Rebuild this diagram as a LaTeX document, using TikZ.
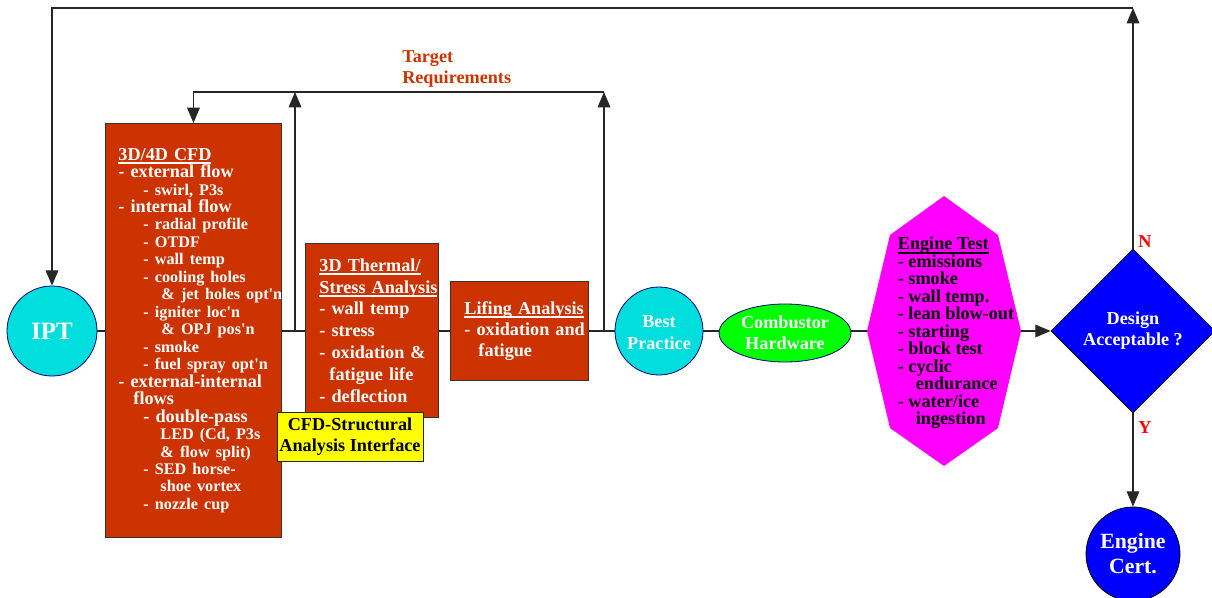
\documentclass[tikz,border=0pt]{standalone}
\usepackage{fontspec}
\setmainfont{Liberation Serif}
\usetikzlibrary{arrows.meta,shapes.geometric}
\definecolor{cfdred}{HTML}{CC3300}
\definecolor{ptcyan}{HTML}{00DDDD}
\definecolor{navyb}{HTML}{000080}
\definecolor{hwgreen}{HTML}{00FF00}
\definecolor{testmag}{HTML}{FF00FF}
\definecolor{decblue}{HTML}{0000FF}
\definecolor{ifyellow}{HTML}{FFFF00}
\newcommand\Li[2]{\mbox{\hspace*{#1}#2}}
\newcommand\Sb[2]{\mbox{\hspace*{#1}\fontsize{12.15}{13.1}\selectfont #2}}
\newcommand\Ul[1]{\setbox0\hbox{#1}\rlap{\vrule width\wd0 height -1.4pt depth 2.9pt}\box0}
\newcommand\ap{\textquotesingle}
\begin{document}
\begin{tikzpicture}[x=0.75pt,y=-0.75pt,
  conn/.style={draw=black!85,line width=0.9pt},
  arr/.style={conn,-{Triangle[length=11.5pt,width=9.5pt]}},
  redbox/.style={draw=black!80,line width=0.7pt,fill=cfdred,text=white,align=left,
    anchor=north west,inner ysep=0pt},
  roundnode/.style={circle,draw=navyb,line width=0.6pt,fill=ptcyan,text=white,align=center,inner sep=0pt},
  bf/.style={font=\bfseries\fontsize{13.65}{#1}\selectfont},
]
\useasboundingbox (0,0) rectangle (1212,598);

% nodes
\node[roundnode,minimum size=67.5pt,font=\bfseries\fontsize{18.75}{20}\selectfont] (ipt) at (52,331) {IPT};

\node[redbox,text width=112.5pt,inner xsep=9.75pt,minimum height=310.5pt,bf=13.1] (cfd) at (105,123) {%
\Li{0pt}{\Ul{3D/4D CFD}}\\
\Li{0pt}{- external flow}\\
\Sb{18.75pt}{- swirl, P3s}\\
\Li{0pt}{- internal flow}\\
\Sb{18.75pt}{- radial profile}\\
\Sb{18.75pt}{- OTDF}\\
\Sb{18.75pt}{- wall temp}\\
\Sb{18.75pt}{- cooling holes}\\
\Sb{32.25pt}{\& jet holes opt\ap n}\\
\Sb{18.75pt}{- igniter loc\ap n}\\
\Sb{32.25pt}{\& OPJ pos\ap n}\\
\Sb{18.75pt}{- smoke}\\
\Sb{18.75pt}{- fuel spray opt\ap n}\\
\Li{0pt}{- external-internal}\\
\Li{11.25pt}{flows}\\
\Li{18.75pt}{- double-pass}\\
\Sb{31.5pt}{LED (Cd, P3s}\\
\Sb{31.5pt}{\& flow split)}\\
\Sb{18.75pt}{- SED horse-}\\
\Sb{31.5pt}{shoe vortex}\\
\Sb{18.75pt}{- nozzle cup}};

\node[redbox,text width=78.75pt,inner xsep=10.5pt,minimum height=130.5pt,bf=16.35] (thermal) at (305,243) {%
\Li{0pt}{\Ul{3D Thermal/}}\\
\Li{0pt}{\Ul{Stress Analysis}}\\
\Li{0pt}{- wall temp}\\
\Li{0pt}{- stress}\\
\Li{0pt}{- oxidation \&}\\
\Li{7.5pt}{fatigue life}\\
\Li{0pt}{- deflection}};

\node[redbox,text width=82.5pt,inner xsep=10.5pt,minimum height=74.25pt,bf=15.75] (lifing) at (450,281) {%
\Li{0pt}{\Ul{Lifing Analysis}}\\
\Li{0pt}{- oxidation and}\\
\Li{10.5pt}{fatigue}};

\node[draw=black!85,line width=0.7pt,fill=ifyellow,align=center,minimum width=109.5pt,minimum height=36.75pt,inner sep=0pt,bf=15.75] (iface) at (350,436.5) {CFD-Structural\\Analysis Interface};

\node[roundnode,minimum size=66pt,bf=16.5] (best) at (659,331) {\rule{0pt}{12pt}Best\\Practice};

\node[ellipse,draw=navyb,line width=0.6pt,fill=hwgreen,text=white,align=center,inner sep=0pt,minimum width=99pt,minimum height=43.5pt,bf=16.1] (hw) at (785,333) {Combustor\\Hardware};

\fill[testmag] (944,196) -- (998,235) -- (1021,331) -- (998,428) -- (944,466) -- (890,428) -- (867,331) -- (890,235) -- cycle;
\coordinate (testL) at (867,331);
\coordinate (testR) at (1021,331);
\node[align=left,inner sep=0pt,bf=13.1] (test) at (956,333) {%
\Ul{Engine Test}\\
- emissions\\
- smoke\\
- wall temp.\\
- lean blow-out\\
- starting\\
- block test\\
- cyclic\\
\hspace*{13.5pt}endurance\\
- water/ice\\
\hspace*{13.5pt}ingestion};

\node[diamond,aspect=1,draw=black,line width=0.6pt,fill=decblue,text=white,align=center,inner sep=0pt,minimum width=123pt,minimum height=123pt,bf=15.75] (dia) at (1133,331) {Design\\Acceptable ?};

\node[circle,draw=black,line width=0.6pt,fill=decblue,text=white,align=center,inner sep=0pt,minimum size=70.5pt,font=\bfseries\fontsize{16.3}{18.75}\selectfont] (cert) at (1133,554) {Engine\\Cert.};

\node[anchor=base west,inner sep=0pt,text=red,bf=14] (nlab) at (1138,248) {N};
\node[anchor=base west,inner sep=0pt,text=red,bf=14] (ylab) at (1138,433) {Y};

\node[anchor=west,align=left,inner sep=0pt,text=cfdred,bf=16.2] (target) at (402,69) {Target\\Requirements};

% coordinates
\coordinate (j1) at (295,331);
\coordinate (j2) at (604,331);
\coordinate (t1) at (295,92);
\coordinate (t2) at (604,92);
\coordinate (topR) at (1133,8);

% connectors
\draw[conn] (ipt.east) -- (ipt.east -| cfd.west);
\draw[conn] (j1 -| cfd.east) -- (j1) -- (j1 -| thermal.west);
\draw[conn] (j1 -| thermal.east) -- (j1 -| lifing.west);
\draw[conn] (j2 -| lifing.east) -- (j2) -- (best.west);
\draw[conn] (best.east) -- (best.east -| hw.west);
\draw[conn] (testL -| hw.east) -- (testL);
\draw[arr] (testR) -- (dia.west);
\draw[arr] (j1) -- (t1);
\draw[arr] (j2) -- (t2);
\draw[arr] (t2) -- (cfd.north |- t2) -- (cfd.north);
\draw[arr] (dia.north) -- (topR);
\draw[arr] (topR) -- (ipt.north |- topR) -- (ipt.north);
\draw[arr] (dia.south) -- (cert.north);
\end{tikzpicture}
\end{document}
